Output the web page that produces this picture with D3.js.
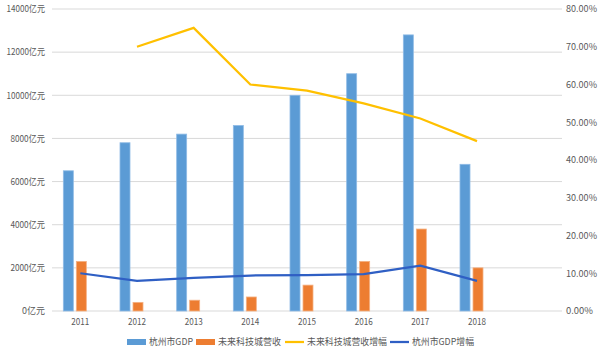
<!DOCTYPE html>
<html>
<head>
<meta charset="utf-8">
<script src="https://cdn.jsdelivr.net/npm/d3@7"></script>
<style>
  body { margin: 0; background: #fff; }
  svg { display: block; font-family: "Noto Sans CJK SC", "Microsoft YaHei", sans-serif; }
</style>
</head>
<body>
<svg id="chart" width="600" height="354"></svg>
<script>
const years = ["2011", "2012", "2013", "2014", "2015", "2016", "2017", "2018"];
const gdp = [6500, 7800, 8200, 8600, 10000, 11000, 12800, 6800];
const revenue = [2300, 400, 500, 650, 1200, 2300, 3800, 2000];
const revenueGrowth = [null, 0.70, 0.75, 0.60, 0.584, 0.55, 0.51, 0.45];
const gdpGrowth = [0.10, 0.08, 0.088, 0.094, 0.095, 0.098, 0.12, 0.08];
const leftTicks = [0, 2000, 4000, 6000, 8000, 10000, 12000, 14000];
const rightTicks = [0, 0.1, 0.2, 0.3, 0.4, 0.5, 0.6, 0.7, 0.8];
const seriesNames = ["杭州市GDP", "未来科技城营收", "未来科技城营收增幅", "杭州市GDP增幅"];

const colors = { gdp: "#5B9BD5", rev: "#ED7D31", revG: "#FFC000", gdpG: "#2F5FC4" };

const svg = d3.select("#chart");
const margin = { top: 9, left: 52, right: 38, bottom: 43 };
const width = 600, height = 354;
const plotW = width - margin.left - margin.right;
const plotH = height - margin.top - margin.bottom;

const g = svg.append("g").attr("transform", `translate(${margin.left},${margin.top})`);

// one empty slot after 2018, like the source spreadsheet
const x = d3.scaleBand().domain(years.concat(["_blank"])).range([0, plotW]);
const yL = d3.scaleLinear().domain([0, 14000]).range([plotH, 0]);
const yR = d3.scaleLinear().domain([0, 0.8]).range([plotH, 0]);
const cx = d => x(d) + x.bandwidth() / 2;

// grid
g.selectAll(".grid").data(leftTicks).enter().append("line")
  .attr("x1", 0).attr("x2", plotW)
  .attr("y1", d => yL(d)).attr("y2", d => yL(d))
  .attr("stroke", "#d9d9d9").attr("stroke-width", 1);

// left axis labels (narrow digits like the original)
g.selectAll(".lt").data(leftTicks).enter().append("text")
  .attr("x", -7).attr("y", d => yL(d)).attr("dy", "0.35em")
  .attr("text-anchor", "end").attr("font-size", 9.5).attr("fill", "#595959")
  .attr("textLength", d => String(d).length * 3.9 + 19)
  .attr("lengthAdjust", "spacingAndGlyphs")
  .text(d => d + "亿元");

// right axis labels
g.selectAll(".rt").data(rightTicks).enter().append("text")
  .attr("x", plotW + 4).attr("y", d => yR(d)).attr("dy", "0.35em")
  .attr("text-anchor", "start").attr("font-size", 9.5).attr("fill", "#595959")
  .attr("textLength", d => d >= 0.1 ? 31 : 27)
  .attr("lengthAdjust", "spacingAndGlyphs")
  .text(d => d3.format(".2%")(d));

// x labels
g.selectAll(".xt").data(years).enter().append("text")
  .attr("x", d => cx(d)).attr("y", plotH + 14)
  .attr("text-anchor", "middle").attr("font-size", 9.5).attr("fill", "#595959")
  .attr("textLength", 18).attr("lengthAdjust", "spacingAndGlyphs")
  .text(d => d);

const barW = 10;
g.selectAll(".bg").data(years).enter().append("rect")
  .attr("x", (d) => cx(d) - 17).attr("width", barW)
  .attr("y", (d, i) => yL(gdp[i])).attr("height", (d, i) => plotH - yL(gdp[i]))
  .attr("fill", colors.gdp).attr("stroke", "#8fbbe6").attr("stroke-width", 0.8);

g.selectAll(".br").data(years).enter().append("rect")
  .attr("x", (d) => cx(d) - 4).attr("width", barW)
  .attr("y", (d, i) => yL(revenue[i])).attr("height", (d, i) => plotH - yL(revenue[i]))
  .attr("fill", colors.rev).attr("stroke", "#f4b183").attr("stroke-width", 0.8);

const line = d3.line()
  .defined(d => d.v != null)
  .x(d => cx(d.year))
  .y(d => yR(d.v));

g.append("path")
  .datum(years.map((y, i) => ({ year: y, v: revenueGrowth[i] })))
  .attr("fill", "none").attr("stroke", colors.revG).attr("stroke-width", 2.25)
  .attr("d", line);

g.append("path")
  .datum(years.map((y, i) => ({ year: y, v: gdpGrowth[i] })))
  .attr("fill", "none").attr("stroke", colors.gdpG).attr("stroke-width", 2.25)
  .attr("d", line);

// legend
const legend = svg.append("g").attr("transform", "translate(0,342)");
const items = [
  { name: seriesNames[0], type: "rect", color: colors.gdp, x: 127, w: 44 },
  { name: seriesNames[1], type: "rect", color: colors.rev, x: 196, w: 63 },
  { name: seriesNames[2], type: "line", color: colors.revG, x: 285, w: 80 },
  { name: seriesNames[3], type: "line", color: colors.gdpG, x: 390, w: 62 }
];
items.forEach(it => {
  if (it.type === "rect") {
    legend.append("rect").attr("x", it.x).attr("y", -3).attr("width", 19).attr("height", 6).attr("fill", it.color);
  } else {
    legend.append("line").attr("x1", it.x).attr("x2", it.x + 19).attr("y1", 0).attr("y2", 0)
      .attr("stroke", it.color).attr("stroke-width", 2.25);
  }
  legend.append("text").attr("x", it.x + 22).attr("y", 0).attr("dy", "0.35em")
    .attr("font-size", 9.5).attr("fill", "#595959")
    .attr("textLength", it.w).attr("lengthAdjust", "spacingAndGlyphs")
    .text(it.name);
});
</script>
</body>
</html>
